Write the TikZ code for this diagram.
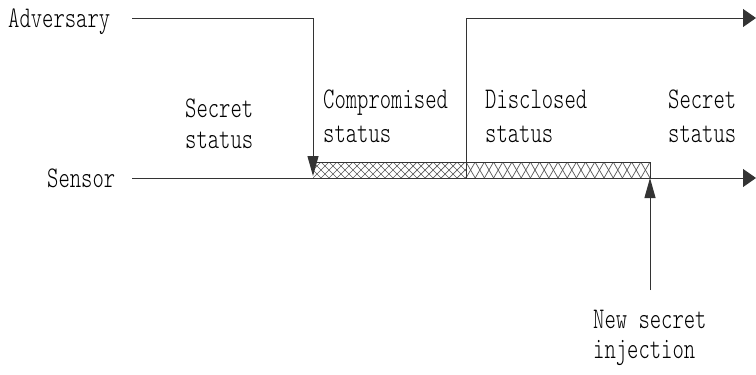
\documentclass[tikz,border=0pt]{standalone}
\usepackage{fontspec}
\newfontfamily\diagfont[FakeStretch=0.72]{Latin Modern Mono Light}
\usetikzlibrary{arrows.meta}

\tikzset{
  lbl/.style={font=\diagfont\fontsize{30}{32}\selectfont, inner sep=0pt, align=left, anchor=base west},
  wire/.style={line width=1pt, draw=black!80},
  harrow/.style={wire, -{Triangle[length=13pt,width=18pt]}},
  varrow/.style={wire, -{Triangle[length=20pt,width=11pt]}},
  hatch/.style={line width=0.7pt, draw=black!65},
}

\begin{document}
\begin{tikzpicture}[x=1pt,y=-1pt]
\useasboundingbox (0,0) rectangle (756,375);

% anchor points of the two time lines
\coordinate (advstart) at (132,18);
\coordinate (advhit)   at (313,18);
\coordinate (compTop)  at (313,162);
\coordinate (discTop)  at (466,162);
\coordinate (discUp)   at (466,18);
\coordinate (advend)   at (756,18);
\coordinate (senstart) at (132,178);
\coordinate (senend)   at (756,178);
\coordinate (newTop)   at (650,178);
\coordinate (newFoot)  at (650,290);

% labels (the anchor sits on the baseline of the last line)
\node[lbl] (adv) at (8,27) {Adversary};
\node[lbl] (sen) at (47,187) {Sensor};
\node[lbl, font=\diagfont\fontsize{30}{31}\selectfont] (secA) at (185,148) {Secret\\status};
\node[lbl, font=\diagfont\fontsize{30}{34}\selectfont] (comp) at (323,142) {Compromised\\status};
\node[lbl, font=\diagfont\fontsize{30}{34}\selectfont] (disc) at (485,142) {Disclosed\\status};
\node[lbl, font=\diagfont\fontsize{30}{34}\selectfont] (secB) at (668,142) {Secret\\status};
\node[lbl, font=\diagfont\fontsize{30}{30}\selectfont] (inj) at (593,358) {New secret\\injection};

% compromised interval: fine diamond mesh
\begin{scope}
  \clip (313,162) rectangle (466,178);
  \foreach \x in {297,305,...,473} {
    \draw[hatch] (\x,178) -- (\x+16,162);
    \draw[hatch] (\x,162) -- (\x+16,178);
  }
\end{scope}

% disclosed interval: wide crosses
\begin{scope}
  \clip (466,162) rectangle (650,178);
  \foreach \k in {0,...,20} {
    \draw[hatch] (466+\k*9.2,178) -- (466+\k*9.2+9.2,162);
    \draw[hatch] (466+\k*9.2,162) -- (466+\k*9.2+9.2,178);
  }
\end{scope}

% outline of the exposed period
\draw[wire] (compTop) -- (650,162) -- (newTop);
\draw[wire] (discTop) -- (466,178);

% sensor time line
\draw[harrow] (senstart) -- (senend);

% adversary time line
\draw[varrow] (advstart) -- (advhit) -- (313,176);
\draw[harrow] (discTop) -- (discUp) -- (advend);

% injection of a new secret
\draw[varrow] (newFoot) -- (newTop);
\end{tikzpicture}
\end{document}
